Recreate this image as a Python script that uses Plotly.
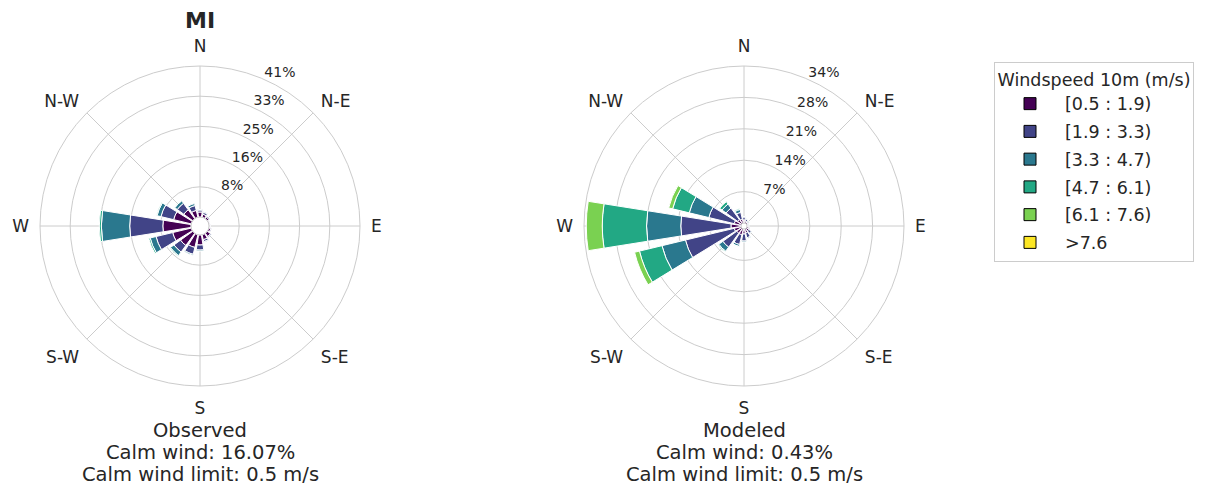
import plotly.graph_objects as go

# ---- data ----
directions = ["N", "NNE", "NE", "ENE", "E", "ESE", "SE", "SSE",
              "S", "SSW", "SW", "WSW", "W", "WNW", "NW", "NNW"]
speed_bins = ["[0.5 : 1.9)", "[1.9 : 3.3)", "[3.3 : 4.7)",
              "[4.7 : 6.1)", "[6.1 : 7.6)", ">7.6"]
bin_colors = ["#440154", "#414487", "#2a788e", "#22a884", "#7ad151", "#fde725"]

# Observed frequencies (%) per speed bin, per direction
obs_b1 = [1.37, 0.82, 0.55, 0.27, 0.27, 0.55, 1.09, 1.37, 2.73, 3.55, 4.10, 5.19, 7.65, 4.92, 3.00, 1.91]
obs_b2 = [0.55, 0.55, 0.27, 0.10, 0.10, 0.20, 0.27, 0.55, 1.37, 1.91, 2.19, 4.65, 9.00, 3.55, 2.19, 1.37]
obs_b3 = [0.10, 0.20, 0.00, 0.00, 0.00, 0.00, 0.10, 0.20, 0.27, 0.27, 1.20, 1.64, 7.70, 1.09, 0.82, 0.55]
obs_b4 = [0.00, 0.00, 0.00, 0.00, 0.00, 0.00, 0.00, 0.00, 0.00, 0.00, 0.20, 0.40, 0.55, 0.20, 0.10, 0.00]
obs_b5 = [0.00] * 16
obs_b6 = [0.00] * 16

# Modeled frequencies (%) per speed bin, per direction
mod_b1 = [0.66, 0.44, 0.44, 0.22, 0.22, 0.44, 0.66, 0.88, 1.10, 1.32, 1.32, 1.54, 2.20, 1.54, 1.10, 0.88]
mod_b2 = [0.66, 0.44, 0.22, 0.22, 0.22, 0.22, 0.66, 1.10, 1.54, 2.20, 3.75, 11.00, 11.00, 5.73, 3.09, 1.54]
mod_b3 = [0.10, 0.10, 0.10, 0.00, 0.00, 0.00, 0.10, 0.20, 0.22, 0.44, 1.10, 5.29, 7.50, 4.41, 1.10, 0.66]
mod_b4 = [0.00, 0.00, 0.00, 0.00, 0.00, 0.00, 0.00, 0.00, 0.00, 0.05, 0.22, 5.07, 9.70, 3.75, 0.66, 0.20]
mod_b5 = [0.00, 0.00, 0.00, 0.00, 0.00, 0.00, 0.00, 0.00, 0.00, 0.00, 0.00, 1.10, 3.50, 0.88, 0.10, 0.00]
mod_b6 = [0.00] * 16

obs_rmax = 41.0
mod_rmax = 34.4
obs_ticklabels = ["8%", "16%", "25%", "33%", "41%"]
mod_ticklabels = ["7%", "14%", "21%", "28%", "34%"]
compass_labels = ["N", "N-E", "E", "S-E", "S", "S-W", "W", "N-W"]

obs_title_lines = ["Observed", "Calm wind: 16.07%", "Calm wind limit: 0.5 m/s"]
mod_title_lines = ["Modeled", "Calm wind: 0.43%", "Calm wind limit: 0.5 m/s"]
station = "MI"

obs_bins = [obs_b1, obs_b2, obs_b3, obs_b4, obs_b5, obs_b6]
mod_bins = [mod_b1, mod_b2, mod_b3, mod_b4, mod_b5, mod_b6]

sector = 360.0 / len(directions)
theta = [i * sector for i in range(len(directions))]
bar_width = sector * 0.8

fig = go.Figure()
for k, name in enumerate(speed_bins):
    fig.add_trace(go.Barpolar(
        r=obs_bins[k], theta=theta, width=bar_width, name=name,
        legendgroup=name, showlegend=False,
        marker=dict(color=bin_colors[k], line=dict(color="white", width=1)),
        subplot="polar"))
for k, name in enumerate(speed_bins):
    fig.add_trace(go.Barpolar(
        r=mod_bins[k], theta=theta, width=bar_width, name=name,
        legendgroup=name, showlegend=False,
        marker=dict(color=bin_colors[k], line=dict(color="white", width=1)),
        subplot="polar2"))
# legend entries (black-edged patches, like the reference legend)
for k, name in enumerate(speed_bins):
    fig.add_trace(go.Barpolar(
        r=[None], theta=[None], name=name, legendgroup=name, showlegend=True,
        marker=dict(color=bin_colors[k], line=dict(color="black", width=1)),
        subplot="polar2"))

W, H = 1213, 495
FONT = "DejaVu Sans"
TXT = "#262626"


def polar_layout(cx, rmax, ticklabels, hole):
    return dict(
        domain=dict(x=[(cx - 160) / W, (cx + 160) / W], y=[1 - 386 / H, 1 - 66 / H]),
        bgcolor="white",
        hole=hole,
        barmode="stack",
        angularaxis=dict(
            rotation=90, direction="clockwise",
            tickmode="array", tickvals=[i * 45 for i in range(8)], ticktext=compass_labels,
            tickfont=dict(size=17, color=TXT, family=FONT),
            ticks="outside", ticklen=7, tickcolor="rgba(0,0,0,0)",
            showgrid=True, gridcolor="#cccccc", gridwidth=1,
            showline=True, linecolor="#cccccc", linewidth=1,
        ),
        radialaxis=dict(
            range=[0, rmax], angle=69, tickangle=69,
            tickmode="array", tickvals=[rmax * (i + 1) / 5 for i in range(5)],
            ticktext=[t + "<br> " for t in ticklabels],
            tickfont=dict(size=14, color=TXT, family=FONT),
            showline=False, ticks="", showgrid=True, gridcolor="#cccccc", gridwidth=1,
        ),
    )


annotations = [
    dict(text="<b>" + station + "</b>", x=200 / W, y=1 - 20 / H, xref="paper", yref="paper",
         xanchor="center", yanchor="middle",
         showarrow=False, font=dict(size=22, color=TXT, family=FONT)),
]
for cx, lines in ((200, obs_title_lines), (744, mod_title_lines)):
    for i, line in enumerate(lines):
        annotations.append(dict(
            text=line, x=cx / W, y=1 - (430 + 22 * i) / H, xref="paper", yref="paper",
            xanchor="center", yanchor="middle", showarrow=False,
            font=dict(size=19.5, color=TXT, family=FONT)))

fig.update_layout(
    width=W, height=H,
    margin=dict(l=0, r=0, t=0, b=0),
    paper_bgcolor="white",
    font=dict(family=FONT, color=TXT),
    polar=polar_layout(200, obs_rmax, obs_ticklabels, 9 / 160),
    polar2=polar_layout(744, mod_rmax, mod_ticklabels, 3 / 160),
    legend=dict(
        x=994 / W, y=1 - 62 / H, xanchor="left", yanchor="top",
        bordercolor="#cccccc", borderwidth=1, bgcolor="white",
        title=dict(text="Windspeed 10m (m/s)", side="top center",
                   font=dict(size=17.5, color=TXT, family=FONT)),
        font=dict(size=17.5, color=TXT, family=FONT),
        traceorder="grouped", tracegroupgap=2, itemwidth=60,
    ),
    annotations=annotations,
)

fig.write_html("out.html")
